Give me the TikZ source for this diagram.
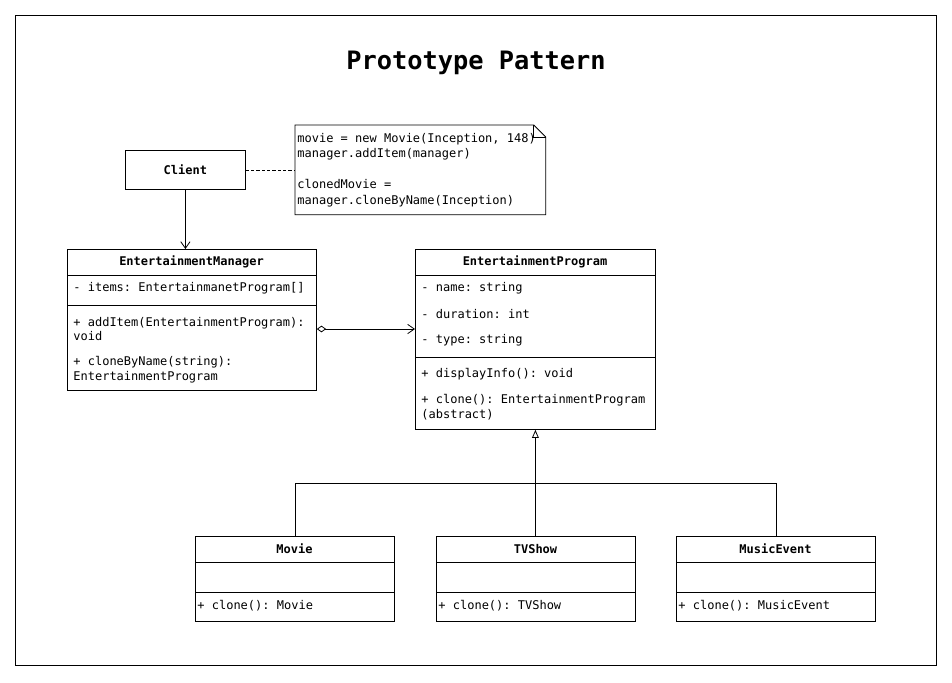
\documentclass[tikz,border=0pt]{standalone}
\usepackage{fontspec}
\setmonofont{DejaVu Sans Mono}
\usetikzlibrary{arrows.meta}

\tikzset{
	every node/.style={font=\ttfamily\fontsize{9}{10.9}\selectfont, inner sep=0pt},
	classbox/.style={draw, anchor=north west},
	classname/.style={font=\ttfamily\bfseries\fontsize{9}{10.9}\selectfont},
	member/.style={anchor=west, align=left},
	titletext/.style={font=\ttfamily\bfseries\fontsize{19}{22}\selectfont},
	assoc/.style={-{Straight Barb[length=5pt,width=7pt]}},
	aggr/.style={{Diamond[open,length=7pt,width=5pt]}-{Straight Barb[length=5pt,width=7pt]}},
	inherit/.style={-{Triangle[open,length=6pt,width=5pt]}}
}

\begin{document}
\begin{tikzpicture}[x=0.75pt, y=-0.75pt, line width=0.6pt]
		\def\px{0.75pt}
		\useasboundingbox (0,0) rectangle (952,682);
		\draw (15,15) rectangle (936,665);
		\node[titletext] (title) at (476,63) {Prototype Pattern};

		% client and note
		\node[classbox, classname, minimum width=120*\px, minimum height=39*\px] (client) at (125,150) {Client};
		\node[anchor=north west, minimum width=250*\px, minimum height=89*\px] (note) at (295,125) {};
		\node[member, inner xsep=1.5pt, font=\ttfamily\fontsize{9}{11.6}\selectfont] (note-text) at (note.west)
			{movie = new Movie(Inception, 148)\\manager.addItem(manager)\\ \\clonedMovie =\\manager.cloneByName(Inception)};
		\draw (note.north west) -- ([xshift=-12*\px]note.north east) -- ([yshift=-12*\px]note.north east)
			-- (note.south east) -- (note.south west) -- cycle;
		\draw ([xshift=-12*\px]note.north east) -- ++(0,12) -- ++(12,0);
		\draw[dashed, dash pattern=on 2.5pt off 1.5pt] (client.east) -- (note.west);

		% EntertainmentManager
		\node[classbox, minimum width=249*\px, minimum height=141*\px] (manager) at (67,249) {};
		\node[classname] (manager-name) at (191.5,262) {EntertainmentManager};
		\draw (manager.north west) ++(0,26) -- ++(249,0);
		\draw (manager.north west) ++(0,56) -- ++(249,0);
		\node[member] (manager-items) at (73,288) {- items: EntertainmanetProgram[]};
		\node[member] (manager-add) at (73,329) {+ addItem(EntertainmentProgram):\\void};
		\node[member] (manager-clone) at (73,369.5) {+ cloneByName(string):\\EntertainmentProgram};

		% EntertainmentProgram
		\node[classbox, minimum width=240*\px, minimum height=180*\px] (program) at (415,249) {};
		\node[classname] (program-name) at (535,262) {EntertainmentProgram};
		\draw (program.north west) ++(0,26) -- ++(240,0);
		\draw (program.north west) ++(0,108) -- ++(240,0);
		\foreach \t/\y [count=\i] in {{- name: string}/288, {- duration: int}/314, {- type: string}/340, {+ displayInfo(): void}/374}
		{
			\node[member] (program-m\i) at (421,\y) {\t};
		}
		\node[member] (program-clone) at (421,407) {+ clone(): EntertainmentProgram\\(abstract)};

		% subclasses
		\foreach \n/\x/\lbl in {movie/195/Movie, tvshow/436/TVShow, music/676/MusicEvent}
		{
			\node[classbox, minimum width=199*\px, minimum height=85*\px] (\n) at (\x,536) {};
			\node[classname] (\n-name) at (\x+99.5,549) {\lbl};
			\draw (\n.north west) ++(0,26) -- ++(199,0);
			\draw (\n.north west) ++(0,56) -- ++(199,0);
			\node[member] (\n-clone) at (\x+2,606) {+ clone(): \lbl};
		}

		% connectors
		\draw[assoc] (client.south) -- (client.south |- manager.north);
		\path (manager.north east) ++(0,80) coordinate (aggl);
		\draw[aggr] (aggl) -- (aggl -| program.west);
		\path (program.south) ++(0,54) coordinate (join);
		\draw (movie.north) |- (join) -| (music.north);
		\draw (join) -- (join |- tvshow.north);
		\draw[inherit] (join) -- (program.south);
	\end{tikzpicture}
\end{document}
